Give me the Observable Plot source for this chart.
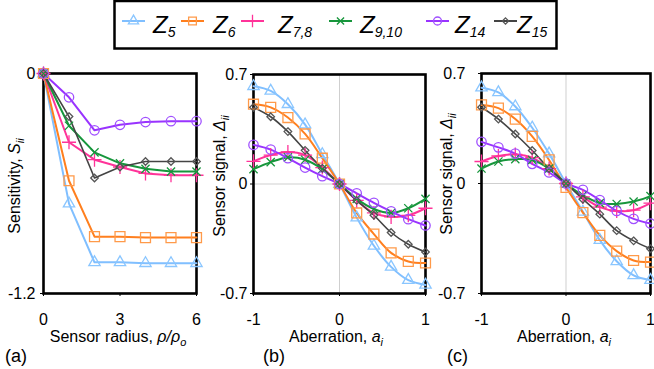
<!DOCTYPE html>
<html><head><meta charset="utf-8">
<script src="https://cdn.jsdelivr.net/npm/d3@7"></script>
<script src="https://cdn.jsdelivr.net/npm/@observablehq/plot@0.6"></script>
<style>
html,body{margin:0;padding:0;background:#fff;}
#wrap{position:relative;width:654px;height:369px;overflow:hidden;font-family:"Liberation Sans",Arial,sans-serif;background:#fff;}
#wrap svg{position:absolute;left:0;top:0;}
</style></head><body><div id="wrap"></div>
<script>
// ---- series definitions ----
const seriesNames = ["Z5", "Z6", "Z7,8", "Z9,10", "Z14", "Z15"];
const seriesSubs = ["5", "6", "7,8", "9,10", "14", "15"];
const lineColors = ["#80bfff", "#ff7f1e", "#ff3399", "#17963c", "#9933ff", "#444444"];
const markerColors = ["#8ac6ff", "#ff9a4a", "#ff3399", "#17963c", "#a050ff", "#555555"];
const symbols = ["triangle", "square", "plus", "times", "circle", "diamond2"];

// ---- panel (a): sensitivity vs sensor radius ----
const rho = [0, 1, 2, 3, 4, 5, 6];
const sensZ5 = [0, -0.71, -1.03, -1.03, -1.035, -1.035, -1.035];
const sensZ6 = [0, -0.585, -0.89, -0.89, -0.895, -0.895, -0.895];
const sensZ78 = [0, -0.375, -0.47, -0.51, -0.545, -0.555, -0.555];
const sensZ910 = [0, -0.285, -0.43, -0.49, -0.52, -0.535, -0.535];
const sensZ14 = [0, -0.13, -0.31, -0.28, -0.265, -0.26, -0.26];
const sensZ15 = [0, -0.235, -0.57, -0.51, -0.48, -0.48, -0.48];

// ---- panel (b): sensor signal vs aberration ----
const aberr = [-1, -0.8, -0.6, -0.4, -0.2, 0, 0.2, 0.4, 0.6, 0.8, 1];
const sigBZ5 = [0.625, 0.595, 0.51, 0.38, 0.19, 0, -0.215, -0.395, -0.53, -0.615, -0.645];
const sigBZ6 = [0.51, 0.49, 0.425, 0.32, 0.165, 0, -0.185, -0.32, -0.44, -0.495, -0.505];
const sigBZ78 = [0.145, 0.185, 0.205, 0.185, 0.105, 0, -0.105, -0.185, -0.21, -0.2, -0.155];
const sigBZ910 = [0.095, 0.14, 0.17, 0.155, 0.095, 0, -0.095, -0.16, -0.185, -0.155, -0.095];
const sigBZ14 = [0.25, 0.22, 0.165, 0.105, 0.05, 0, -0.06, -0.12, -0.175, -0.225, -0.265];
const sigBZ15 = [0.49, 0.43, 0.335, 0.215, 0.1, 0, -0.105, -0.2, -0.31, -0.385, -0.435];

// ---- panel (c): sensor signal vs aberration ----
const sigCZ5 = [0.61, 0.58, 0.49, 0.355, 0.19, 0, -0.18, -0.36, -0.495, -0.585, -0.615];
const sigCZ6 = [0.5, 0.48, 0.41, 0.3, 0.15, -0.025, -0.185, -0.33, -0.43, -0.49, -0.5];
const sigCZ78 = [0.14, 0.175, 0.185, 0.165, 0.095, 0, -0.085, -0.15, -0.175, -0.17, -0.125];
const sigCZ910 = [0.095, 0.14, 0.155, 0.15, 0.095, 0, -0.075, -0.125, -0.13, -0.115, -0.08];
const sigCZ14 = [0.265, 0.23, 0.19, 0.125, 0.07, 0, -0.04, -0.105, -0.175, -0.225, -0.255];
const sigCZ15 = [0.485, 0.41, 0.315, 0.21, 0.095, 0, -0.1, -0.195, -0.3, -0.365, -0.415];

// ---- tick labels ----
const ticksAX = [0, 3, 6];
const ticksAY = [0, -1.2];
const ticksBX = [-1, 0, 1];
const ticksBY = [0.7, 0, -0.7];

const tidy = (xs, lists) => lists.flatMap((ys, i) => ys.map((y, j) => ({series: seriesNames[i], x: xs[j], y})));
const dataA = tidy(rho, [sensZ5, sensZ6, sensZ78, sensZ910, sensZ14, sensZ15]);
const dataB = tidy(aberr, [sigBZ5, sigBZ6, sigBZ78, sigBZ910, sigBZ14, sigBZ15]);
const dataC = tidy(aberr, [sigCZ5, sigCZ6, sigCZ78, sigCZ910, sigCZ14, sigCZ15]);

const markerR = [4.2, 5.6, 4.6, 3.8, 4.7, 3.4];
const FONT = "'Liberation Sans', Arial, Helvetica, sans-serif";

function panel(data, o) {
  const marks = [];
  if (o.grid) {
    marks.push(Plot.ruleX([0], {stroke: "#cfcfcf", strokeWidth: 1}));
    marks.push(Plot.ruleY([0], {stroke: "#cfcfcf", strokeWidth: 1}));
  }
  marks.push(Plot.frame({stroke: "black", strokeWidth: 2.6}));
  seriesNames.forEach((s, i) => {
    marks.push(Plot.line(data.filter(d => d.series === s), {
      x: "x", y: "y", stroke: lineColors[i], strokeWidth: i === 5 ? 1.6 : 2, curve: o.curve
    }));
  });
  seriesNames.forEach((s, i) => {
    marks.push(Plot.dot(data.filter(d => d.series === s), {
      x: "x", y: "y", symbol: symbols[i], r: markerR[i], fill: "none",
      stroke: markerColors[i], strokeWidth: 1.3
    }));
  });
  return Plot.plot({
    width: 654, height: 369,
    marginLeft: o.ml, marginRight: 654 - o.r, marginTop: o.t, marginBottom: 369 - o.b,
    style: {background: "transparent", overflow: "visible", fontSize: "16px", fontFamily: FONT, color: "black"},
    x: {domain: o.xd, ticks: o.xt, tickSize: 3, tickPadding: 17, tickFormat: d => String(d), label: null},
    y: {domain: o.yd, ticks: o.yt, tickSize: 3, tickPadding: o.ytp, tickFormat: d => String(d), label: null},
    marks
  });
}

const wrap = document.getElementById("wrap");
wrap.appendChild(panel(dataA, {ml: 43, r: 196, t: 73, b: 293, xd: [0, 6], yd: [-1.2, 0], xt: ticksAX, yt: ticksAY, ytp: 5, curve: "linear"}));
wrap.appendChild(panel(dataB, {ml: 253, r: 425, t: 74, b: 293, xd: [-1, 1], yd: [-0.7, 0.7], xt: ticksBX, yt: ticksBY, ytp: 3, curve: "catmull-rom", grid: true}));
wrap.appendChild(panel(dataC, {ml: 481, r: 650, t: 73, b: 293, xd: [-1, 1], yd: [-0.7, 0.7], xt: ticksBX, yt: ticksBY, ytp: 13, curve: "catmull-rom", grid: true}));

// ---- overlay: axis titles, panel letters, legend ----
const svg = d3.select(wrap).append("svg").attr("width", 654).attr("height", 369)
  .style("font-family", FONT).style("overflow", "visible");

function richLabel(g, parts) {
  parts.forEach(p => {
    const t = g.append("tspan").text(p.t);
    if (p.i) t.attr("font-style", "italic");
    if (p.fs) t.attr("font-size", p.fs);
    if (p.dy) t.attr("dy", p.dy);
  });
}
// y titles
const yTitles = [
  {x: 20, y: 186, parts: [{t: "Sensitivity, "}, {t: "S", i: 1}, {t: "ii", i: 1, fs: 11, dy: 4}]},
  {x: 225, y: 176, parts: [{t: "Sensor signal, "}, {t: "Δ", i: 1}, {t: "ii", i: 1, fs: 11, dy: 4}]},
  {x: 452, y: 174, parts: [{t: "Sensor signal, "}, {t: "Δ", i: 1}, {t: "ii", i: 1, fs: 11, dy: 4}]}
];
yTitles.forEach(l => {
  const t = svg.append("text").attr("transform", `translate(${l.x},${l.y}) rotate(-90)`)
    .attr("text-anchor", "middle").attr("font-size", 16);
  richLabel(t, l.parts);
});
// x titles
const xTitles = [
  {x: 118, parts: [{t: "Sensor radius, "}, {t: "ρ/ρ", i: 1}, {t: "o", i: 1, fs: 11, dy: 4}]},
  {x: 336, parts: [{t: "Aberration, "}, {t: "a", i: 1}, {t: "i", i: 1, fs: 11, dy: 4}]},
  {x: 564, parts: [{t: "Aberration, "}, {t: "a", i: 1}, {t: "i", i: 1, fs: 11, dy: 4}]}
];
xTitles.forEach(l => {
  const t = svg.append("text").attr("x", l.x).attr("y", 342).attr("text-anchor", "middle").attr("font-size", 16);
  richLabel(t, l.parts);
});
// panel letters
[["(a)", 5], ["(b)", 263], ["(c)", 447]].forEach(([s, x]) => {
  svg.append("text").attr("x", x).attr("y", 362).attr("font-size", 18).text(s);
});

// legend
svg.append("rect").attr("x", 114.5).attr("y", 1).attr("width", 442).attr("height", 47.5)
  .attr("fill", "white").attr("stroke", "black").attr("stroke-width", 2.5);
const legLineX = [122, 181, 241, 329, 426, 494];
const legTextX = [153, 213, 278, 360, 455, 517];
const legSym = {triangle: d3.symbolTriangle, square: d3.symbolSquare, plus: d3.symbolPlus, times: d3.symbolTimes, circle: d3.symbolCircle, diamond2: d3.symbolDiamond2};
const legSize = [45, 60, 55, 35, 50, 25];
seriesNames.forEach((s, i) => {
  const ly = 21;
  svg.append("line").attr("x1", legLineX[i]).attr("x2", legLineX[i] + 23).attr("y1", ly).attr("y2", ly)
    .attr("stroke", lineColors[i]).attr("stroke-width", 2);
  svg.append("path").attr("transform", `translate(${legLineX[i] + 11.5},${ly})`)
    .attr("d", d3.symbol(legSym[symbols[i]], legSize[i])())
    .attr("fill", "none").attr("stroke", markerColors[i]).attr("stroke-width", 1.3);
  const t = svg.append("text").attr("x", legTextX[i]).attr("y", 33).attr("font-size", 24).attr("font-style", "italic");
  t.append("tspan").text("Z");
  t.append("tspan").attr("font-size", 14).attr("dy", 4).text(seriesSubs[i]);
});
</script></body></html>
